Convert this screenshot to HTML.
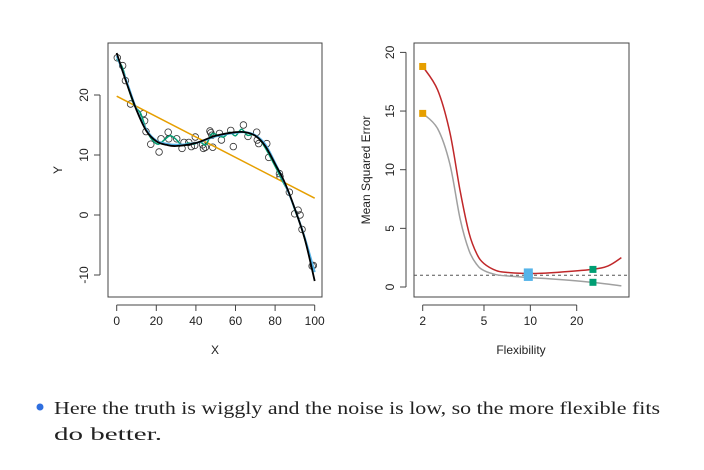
<!DOCTYPE html>
<html><head><meta charset="utf-8"><style>
html,body{margin:0;padding:0;background:#fff;width:704px;height:470px;overflow:hidden}
svg{display:block}
text{font-family:"Liberation Sans",sans-serif}
</style></head><body>
<svg id="s" width="704" height="470" viewBox="0 0 704 470" xmlns="http://www.w3.org/2000/svg">
<g id="left"></g>
<g id="right"></g>
<circle cx="40" cy="407" r="3.5" fill="#2f6fdf"/>
<text x="54" y="414" font-size="18" textLength="606" lengthAdjust="spacingAndGlyphs" style="font-family:'Liberation Serif',serif" fill="#222">Here the truth is wiggly and the noise is low, so the more flexible fits</text>
<text x="54" y="440" font-size="18" textLength="108" lengthAdjust="spacingAndGlyphs" style="font-family:'Liberation Serif',serif" fill="#222">do better.</text>
</svg>
<script>
// ---- Left plot data ----
const ptsX=[0.3,3,4.4,7,13.5,14.1,14.8,17.2,21.4,22.4,26,26.3,30.3,33,34,36.4,37.7,39.7,39.4,43.4,43.8,44.8,47.1,47.5,48.1,48.5,51.9,52.9,57.6,58.9,64,66.3,70.7,71,71.7,75.8,76.8,82.2,82.5,87.2,89.9,91.6,92.6,93.6,98.7,99.3];
const ptsY=[26.2,24.9,22.4,18.5,16.9,15.7,13.9,11.8,10.5,12.7,13.8,12.7,12.7,11.1,12.1,12.1,11.4,13,11.6,11.7,11.1,11.3,14,13.7,13.3,11.3,13.6,12.5,14.1,11.4,15,13.1,13.8,12.5,11.9,11.9,9.6,6.9,6.4,3.8,0.2,0.8,0,-2.4,-8.5,-8.4];
const trueX=[0,5,10,15,20,25,30,40,50,60,65,70,75,80,85,90,95,100];
const trueY=[27,22,17.5,14,12.3,11.7,11.5,12,13.2,13.8,13.8,13.2,11.5,8.5,5.3,1,-4,-11];
const blueX=[0,5,10,15,20,25,30,40,50,60,65,70,75,80,85,90,95,100];
const blueY=[26.5,22.3,17.6,14.2,12.4,11.9,11.7,12,13.1,13.7,13.8,13.3,11.8,8.7,5.2,1,-3.8,-9.5];
const greenX=[0,3,6,9,12,15,18,21,24,27,30,33,36,39,42,45,48,51,54,57,60,63,66,69,72,75,78,81,84,87,90,93,96,100];
const greenY=[26,24.5,21,18.2,17,14.2,12.5,11.8,12.5,13.2,12.6,11.6,12,11.8,12.2,11.7,13.5,13.3,13,13.8,13.2,14.3,13.3,13.4,12.7,11.2,9.4,7.5,5.5,3.6,0.8,-1.8,-5.2,-9.5];
const linX=[0,100], linY=[19.8,2.8];
const xTicksL=[0,20,40,60,80,100], yTicksL=[-10,0,10,20];
// ---- Right plot data ----
const flexTrain=[2,2.5,3,3.5,4,4.5,5,6,7,10,15,25,39];
const mseTrain=[14.8,13.5,10.5,5.8,3.1,1.9,1.4,1.05,0.95,0.8,0.65,0.4,0.1];
const flexTest=[2,2.5,3,3.5,4,4.5,5,6,7,10,15,25,32,39];
const mseTest=[18.8,16.8,13.2,8.2,4.6,2.8,2.0,1.4,1.25,1.15,1.25,1.5,1.8,2.5];
const markFlex=[2,2,9.7,9.7,25.5,25.5];
const markMse=[18.8,14.8,1.2,0.9,1.5,0.4];
const markCol=["#e69f00","#e69f00","#56b4e9","#56b4e9","#009e73","#009e73"];
const irreducible=1.0;
const xTicksR=[2,5,10,20], yTicksR=[0,5,10,15,20];

const NS="http://www.w3.org/2000/svg";
function mk(p,t,a){const e=document.createElementNS(NS,t);for(const k in a)e.setAttribute(k,a[k]);p.appendChild(e);return e;}
function smooth(P){let d="M"+P[0][0]+","+P[0][1];for(let i=0;i<P.length-1;i++){const p0=P[i-1]||P[i],p1=P[i],p2=P[i+1],p3=P[i+2]||p2;
d+=" C"+(p1[0]+(p2[0]-p0[0])/6)+","+(p1[1]+(p2[1]-p0[1])/6)+" "+(p2[0]-(p3[0]-p1[0])/6)+","+(p2[1]-(p3[1]-p1[1])/6)+" "+p2[0]+","+p2[1];}return d;}

// Left axes
const L=document.getElementById('left');
const lx=v=>116.7+v*1.98, ly=v=>215-v*6;
let e=mk(L,'rect',{x:108,y:43,width:214,height:254,fill:'none',stroke:'#444','stroke-width':1});

mk(L,'line',{x1:lx(0),x2:lx(100),y1:305,y2:305,stroke:'#444'});
xTicksL.forEach(t=>{mk(L,'line',{x1:lx(t),x2:lx(t),y1:305,y2:311,stroke:'#444'});
e=mk(L,'text',{x:lx(t),y:325,'font-size':12,'text-anchor':'middle',fill:'#222'});e.textContent=t;
});
mk(L,'line',{x1:100,x2:100,y1:ly(-10),y2:ly(20),stroke:'#444'});
yTicksL.forEach(t=>{mk(L,'line',{x1:94,x2:100,y1:ly(t),y2:ly(t),stroke:'#444'});
e=mk(L,'text',{x:88,y:ly(t),'font-size':12,'text-anchor':'middle',fill:'#222',transform:`rotate(-90 88 ${ly(t)})`});e.textContent=t;
});
e=mk(L,'text',{x:215,y:354,'font-size':12,'text-anchor':'middle',fill:'#222'});e.textContent='X';

e=mk(L,'text',{x:62,y:170,'font-size':12,'text-anchor':'middle',fill:'#222',transform:'rotate(-90 62 170)'});e.textContent='Y';

ptsX.forEach((x,i)=>{const c=mk(L,'circle',{cx:lx(x),cy:ly(ptsY[i]),r:3.3,fill:'none',stroke:'#333','stroke-width':0.8});
});
e=mk(L,'path',{d:smooth(linX.map((x,i)=>[lx(x),ly(linY[i])])),fill:'none',stroke:'#e69f00','stroke-width':1.5});

e=mk(L,'path',{d:smooth(greenX.map((x,i)=>[lx(x),ly(greenY[i])])),fill:'none',stroke:'#009e73','stroke-width':1.5});

e=mk(L,'path',{d:smooth(blueX.map((x,i)=>[lx(x),ly(blueY[i])])),fill:'none',stroke:'#56b4e9','stroke-width':2});

e=mk(L,'path',{d:smooth(trueX.map((x,i)=>[lx(x),ly(trueY[i])])),fill:'none',stroke:'#000','stroke-width':1.8});


// Right axes
const R=document.getElementById('right');
const rx=v=>422.7+(Math.log10(v)-Math.log10(2))*154, ry=v=>287-v*11.73;
e=mk(R,'rect',{x:414,y:43,width:215,height:254,fill:'none',stroke:'#444','stroke-width':1});

mk(R,'line',{x1:rx(2),x2:rx(20),y1:305,y2:305,stroke:'#444'});
xTicksR.forEach(t=>{mk(R,'line',{x1:rx(t),x2:rx(t),y1:305,y2:311,stroke:'#444'});
e=mk(R,'text',{x:rx(t),y:325,'font-size':12,'text-anchor':'middle',fill:'#222'});e.textContent=t;
});
mk(R,'line',{x1:406,x2:406,y1:ry(0),y2:ry(20),stroke:'#444'});
yTicksR.forEach(t=>{mk(R,'line',{x1:400,x2:406,y1:ry(t),y2:ry(t),stroke:'#444'});
e=mk(R,'text',{x:394,y:ry(t),'font-size':12,'text-anchor':'middle',fill:'#222',transform:`rotate(-90 394 ${ry(t)})`});e.textContent=t;
});
e=mk(R,'text',{x:521,y:354,'font-size':12,'text-anchor':'middle',fill:'#222'});e.textContent='Flexibility';

e=mk(R,'text',{x:370,y:170,'font-size':12,'text-anchor':'middle',fill:'#222',transform:'rotate(-90 370 170)'});e.textContent='Mean Squared Error';

e=mk(R,'line',{x1:414,x2:629,y1:ry(irreducible),y2:ry(irreducible),stroke:'#555','stroke-dasharray':'3,3','stroke-width':1});

e=mk(R,'path',{d:smooth(flexTrain.map((x,i)=>[rx(x),ry(mseTrain[i])])),fill:'none',stroke:'#a0a0a0','stroke-width':1.5});

e=mk(R,'path',{d:smooth(flexTest.map((x,i)=>[rx(x),ry(mseTest[i])])),fill:'none',stroke:'#c0282a','stroke-width':1.5});

markFlex.forEach((x,i)=>{const s=(i==2||i==3)?9:7;const r=mk(R,'rect',{x:rx(x)-s/2,y:ry(markMse[i])-s/2,width:s,height:s,fill:markCol[i]});
});
</script>
</body></html>
